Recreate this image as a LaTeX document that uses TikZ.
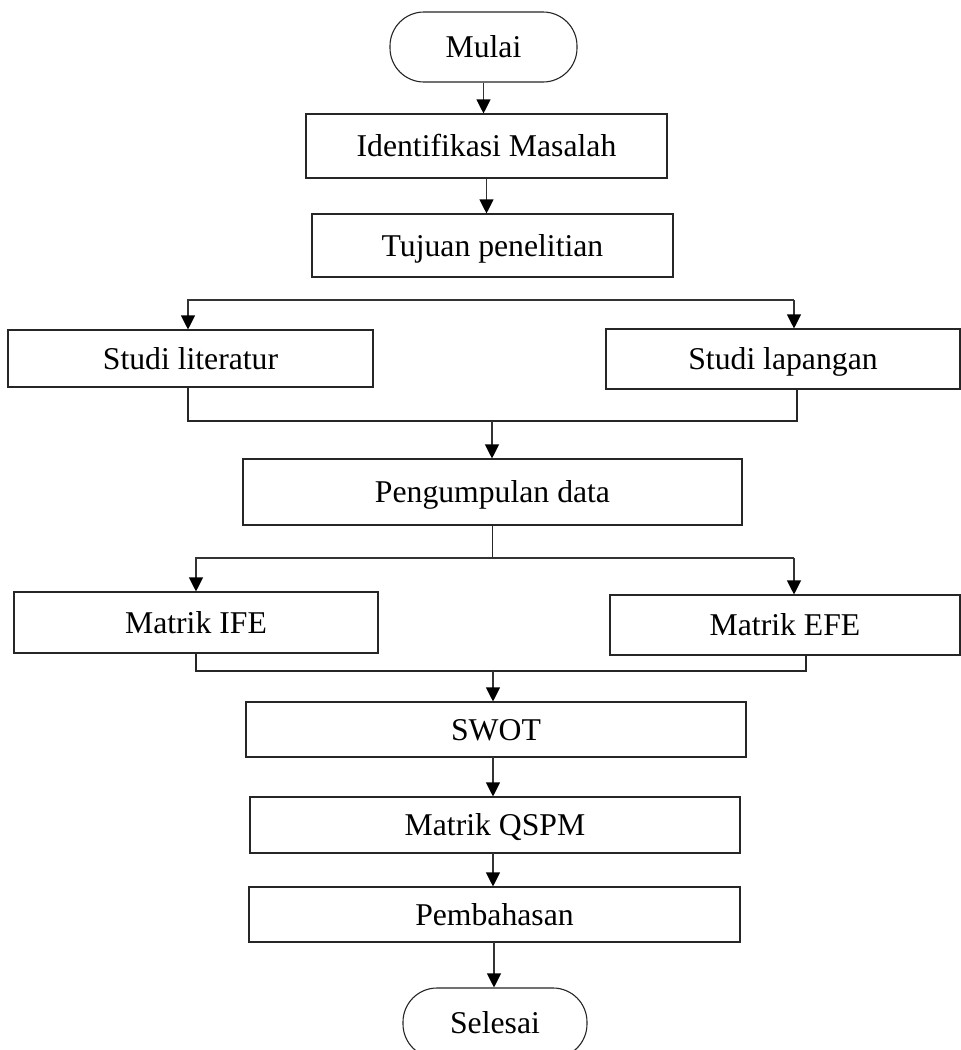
\documentclass[tikz,border=0pt]{standalone}
\usepackage{fontspec}
\setmainfont{Liberation Serif}
\usetikzlibrary{arrows.meta,calc}
\begin{document}
\begin{tikzpicture}[x=1pt,y=-1pt,
  box/.style={draw=black!85,line width=1.1pt,rectangle,inner sep=0pt,
    text height=21pt,text depth=0pt,
    font=\fontsize{31.7}{36}\selectfont},
  term/.style={box,rounded corners=34pt},
  arr/.style={draw=black!80,line width=1.1pt,-{Triangle[width=14pt,length=14pt,fill=black,color=black]}},
  ln/.style={draw=black!85,line width=1.1pt}]
\useasboundingbox (0,0) rectangle (961,1050);
\clip (0,0) rectangle (961,1050);
\fill[white] (0,0) rectangle (961,1050);

\node[term,minimum width=187pt,minimum height=70pt] (mulai) at (483.5,47) {Mulai};
\node[box,minimum width=361pt,minimum height=64pt] (ident) at (486.5,146) {Identifikasi Masalah};
\node[box,minimum width=361pt,minimum height=63pt] (tujuan) at (492.5,245.5) {Tujuan penelitian};
\node[box,minimum width=365pt,minimum height=57pt] (lit) at (190.5,358.5) {Studi literatur};
\node[box,minimum width=354pt,minimum height=60pt] (lap) at (783,359) {Studi lapangan};
\node[box,minimum width=499pt,minimum height=66pt] (pd) at (492.5,492) {Pengumpulan data};
\node[box,minimum width=364pt,minimum height=61pt] (ife) at (196,622.5) {Matrik IFE};
\node[box,minimum width=350pt,minimum height=60pt] (efe) at (785,625) {Matrik EFE};
\node[box,minimum width=500pt,minimum height=55pt] (swot) at (496,729.5) {SWOT};
\node[box,minimum width=490pt,minimum height=56pt] (qspm) at (495,825) {Matrik QSPM};
\node[box,minimum width=491pt,minimum height=55pt] (bahas) at (494.5,914.5) {Pembahasan};
\node[term,minimum width=184pt,minimum height=70pt] (selesai) at (495,1023) {Selesai};

% vertical flow
\draw[arr] (mulai.south) -- (mulai.south |- ident.north);
\draw[arr] (ident.south) -- (ident.south |- tujuan.north);

% split to studies
\coordinate (t1) at (188,300);
\coordinate (t2) at (794,300);
\draw[arr] (t2) -- (t1) -- (t1 |- lit.north);
\draw[arr] (t2) -- (t2 |- lap.north);

% merge studies
\coordinate (m1) at (188,421);
\coordinate (m2) at (797,421);
\coordinate (m3) at (492,421);
\draw[ln] (m1 |- lit.south) -- (m1) -- (m2) -- (m2 |- lap.south);
\draw[arr] (m3) -- (m3 |- pd.north);

% split to matrices
\coordinate (n1) at (196,558);
\coordinate (n2) at (794,558);
\draw[ln] (pd.south) -- (pd.south |- n1);
\draw[arr] (n2) -- (n1) -- (n1 |- ife.north);
\draw[arr] (n2) -- (n2 |- efe.north);

% merge matrices
\coordinate (k1) at (196,671);
\coordinate (k2) at (806,671);
\coordinate (k3) at (493,671);
\draw[ln] (k1 |- ife.south) -- (k1) -- (k2) -- (k2 |- efe.south);
\draw[arr] (k3) -- (k3 |- swot.north);

\coordinate (s1) at (493,757);
\draw[arr] (s1) -- (s1 |- qspm.north);
\coordinate (s2) at (493,853);
\draw[arr] (s2) -- (s2 |- bahas.north);
\coordinate (s3) at (494,942);
\draw[arr] (s3) -- (s3 |- selesai.north);
\end{tikzpicture}
\end{document}
